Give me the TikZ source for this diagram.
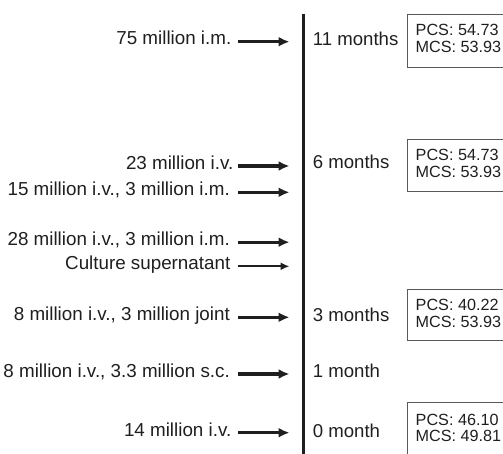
\documentclass[tikz,border=0pt]{standalone}
\usepackage{fontspec}
\setmainfont{Liberation Sans}
\usetikzlibrary{arrows.meta}
\tikzset{
  x=1pt,y=-1pt,
  lbl/.style={anchor=base east,inner sep=0pt,text=black!88,font=\fontsize{18.8}{20}\selectfont},
  mon/.style={anchor=base west,inner sep=0pt,text=black!88,font=\fontsize{18.6}{20}\selectfont},
  val/.style={anchor=base west,inner sep=0pt,text=black!88,align=left,font=\fontsize{16.2}{17}\selectfont},
  arr/.style={line width=3.4pt,black!88,-{Latex[length=11pt,width=10pt]}},
  arrthin/.style={line width=2.2pt,black!88,-{Latex[length=9pt,width=8pt]}},
  valbox/.style={draw=black!65,line width=0.9pt},
  axis/.style={line width=3.3pt,black!88}
}
\begin{document}
\begin{tikzpicture}
\useasboundingbox (0,0) rectangle (503,453);
\clip (0,0) rectangle (503,453);
% time axis
\coordinate (top) at (303.3,14);
\coordinate (bot) at (303.3,460);
\draw[axis] (top) -- (bot);
% left labels
\node[lbl] (t1) at (231.5,44.5) {75 million i.m.};
\node[lbl] (t2) at (233.5,169) {23 million i.v.};
\node[lbl] (t3) at (230,195.3) {15 million i.v., 3 million i.m.};
\node[lbl] (t4) at (230,245) {28 million i.v., 3 million i.m.};
\node[lbl] (t5) at (230.5,269.3) {Culture supernatant};
\node[lbl] (t6) at (230,320.3) {8 million i.v., 3 million joint};
\node[lbl] (t7) at (230,377) {8 million i.v., 3.3 million s.c.};
\node[lbl] (t8) at (231.5,436) {14 million i.v.};
% arrow ends
\coordinate (s1) at (237.5,41.7);  \coordinate (e1) at (289.5,41.7);
\coordinate (s2) at (237.5,166);   \coordinate (e2) at (289.5,166);
\coordinate (s3) at (237.5,192.3); \coordinate (e3) at (289.5,192.3);
\coordinate (s4) at (237.5,242.2); \coordinate (e4) at (289.5,242.2);
\coordinate (s5) at (237.5,266.3); \coordinate (e5) at (289.5,266.3);
\coordinate (s6) at (237.5,317.3); \coordinate (e6) at (289.5,317.3);
\coordinate (s7) at (237.5,374);   \coordinate (e7) at (289.5,374);
\coordinate (s8) at (237.5,432.7); \coordinate (e8) at (289.5,432.7);
\draw[arr] (s1) -- (e1);
\draw[arr] (s2) -- (e2);
\draw[arr] (s3) -- (e3);
\draw[arr] (s4) -- (e4);
\draw[arrthin] (s5) -- (e5);
\draw[arr] (s6) -- (e6);
\draw[arr] (s7) -- (e7);
\draw[arr] (s8) -- (e8);
% month labels
\node[mon] (m1) at (312.7,45.3) {11 months};
\node[mon] (m2) at (312.7,168.5) {6 months};
\node[mon] (m3) at (312.7,321) {3 months};
\node[mon] (m4) at (312.7,377.3) {1 month};
\node[mon] (m5) at (312.7,437.3) {0 month};
% value boxes
\draw[valbox] (407.5,14) rectangle (540,67);
\draw[valbox] (407.5,139.3) rectangle (540,191.7);
\draw[valbox] (407.5,289) rectangle (540,340.7);
\draw[valbox] (407.5,402.7) rectangle (540,455);
\node[val] (p1) at (415.5,35.5) {PCS: 54.73};
\node[val] (q1) at (415.5,52.5) {MCS: 53.93};
\node[val] (p2) at (415.5,160) {PCS: 54.73};
\node[val] (q2) at (415.5,177) {MCS: 53.93};
\node[val] (p3) at (415.5,310.7) {PCS: 40.22};
\node[val] (q3) at (415.5,327.7) {MCS: 53.93};
\node[val] (p4) at (415.5,425) {PCS: 46.10};
\node[val] (q4) at (415.5,441.7) {MCS: 49.81};
\end{tikzpicture}
\end{document}
